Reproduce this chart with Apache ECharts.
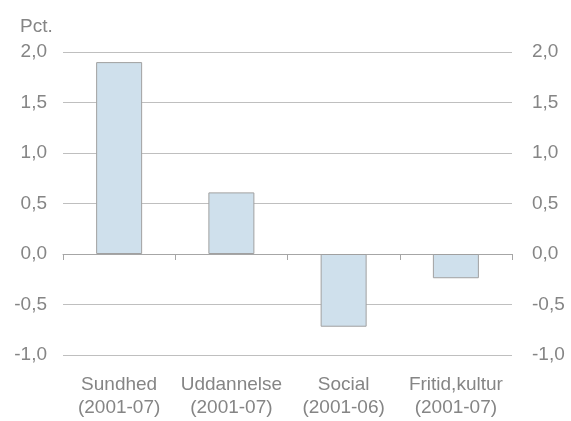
<!DOCTYPE html>
<html><head><meta charset="utf-8">
<script src="https://cdn.jsdelivr.net/npm/echarts@6/dist/echarts.min.js"></script>
<style>html,body{margin:0;padding:0;background:#fff;}#c{width:571px;height:421px;}</style>
</head><body><div id="c"></div>
<script>
var categories = ['Sundhed\n(2001-07)', 'Uddannelse\n(2001-07)', 'Social\n(2001-06)', 'Fritid,kultur\n(2001-07)'];
var values = [1.90, 0.61, -0.72, -0.24];
var yMin = -1.0, yMax = 2.0, yStep = 0.5;
var unitLabel = 'Pct.';

var txt = '#858585';
var ff = 'Liberation Sans, Arial, sans-serif';
var fmt = function (v) { return v.toFixed(1).replace('.', ','); };
var chart = echarts.init(document.getElementById('c'), null, {renderer: 'canvas'});
var yAxisBase = function (pos, margin) {
  return {
    type: 'value', position: pos, min: yMin, max: yMax, interval: yStep,
    axisLine: {show: false}, axisTick: {show: false},
    splitLine: {show: true, lineStyle: {color: '#bfbfbf', width: 1}},
    axisLabel: {color: txt, fontSize: 19, fontFamily: ff, margin: margin, formatter: fmt}
  };
};
chart.setOption({
  animation: false,
  backgroundColor: '#ffffff',
  grid: {left: 63, right: 59, top: 52, bottom: 66},
  graphic: [{type: 'text', left: 20, top: 17, style: {text: unitLabel, fill: txt, fontSize: 19, fontFamily: ff}}],
  xAxis: [{
    type: 'category', data: categories,
    axisLine: {show: true, onZero: true, lineStyle: {color: '#a6a6a6', width: 1}},
    axisTick: {show: true, length: 6, inside: false, lineStyle: {color: '#a6a6a6'}},
    axisLabel: {show: false}
  }, {
    type: 'category', data: categories, position: 'bottom',
    axisLine: {show: false}, axisTick: {show: false},
    axisLabel: {color: txt, fontSize: 19, lineHeight: 23, margin: 18, fontFamily: ff, interval: 0}
  }],
  yAxis: [yAxisBase('left', 16), yAxisBase('right', 20)],
  series: [{
    type: 'bar', xAxisIndex: 0, yAxisIndex: 0, data: values, barWidth: 46,
    itemStyle: {color: '#cfe0ec', borderColor: '#a0a0a0', borderWidth: 1}
  }]
});
</script></body></html>
